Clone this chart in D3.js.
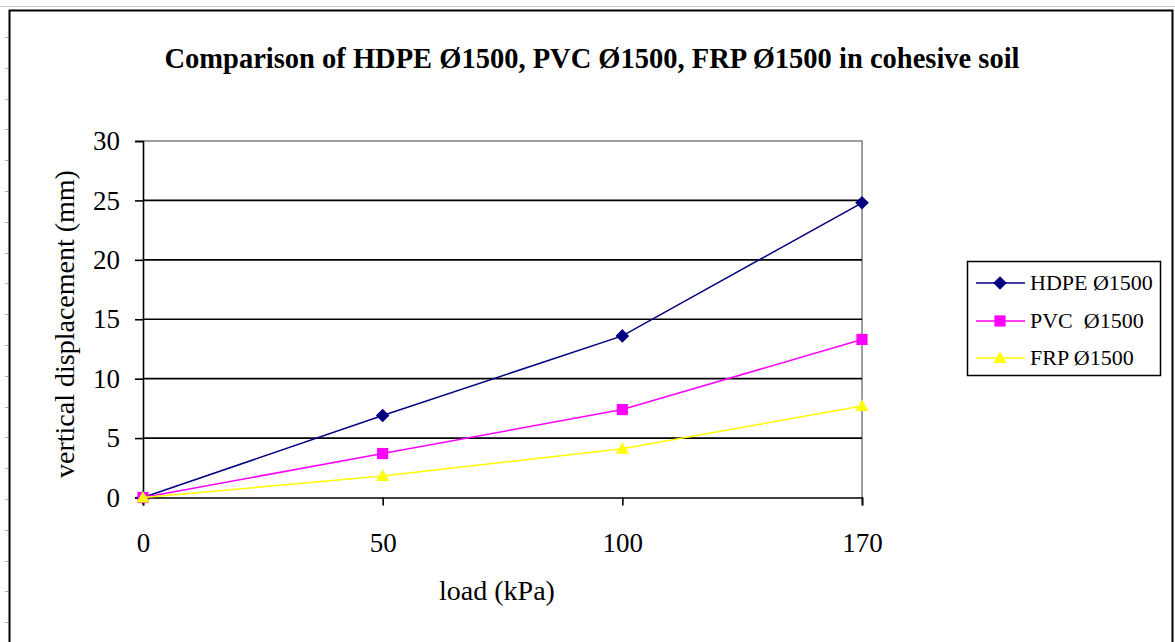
<!DOCTYPE html>
<html>
<head>
<meta charset="utf-8">
<script src="https://cdn.jsdelivr.net/npm/d3@7/dist/d3.min.js"></script>
<style>
  html, body { margin: 0; padding: 0; background: #fff; }
  svg { display: block; }
  text { font-family: "Liberation Serif", "Times New Roman", serif; fill: #000; }
</style>
</head>
<body>
<svg id="chart" width="1175" height="642"></svg>
<script>
// Load steps (category axis) and measured vertical displacement per pipe
const loads = ["0", "50", "100", "170"];
const hdpe = [0, 6.9, 13.6, 24.8];
const pvc = [0, 3.7, 7.4, 13.3];
const frp = [0, 1.8, 4.1, 7.7];
const seriesNames = ["HDPE Ø1500", "PVC  Ø1500", "FRP Ø1500"];
const yTicks = [0, 5, 10, 15, 20, 25, 30];

const title = "Comparison of HDPE Ø1500, PVC Ø1500, FRP Ø1500 in cohesive soil";
const xTitle = "load (kPa)";
const yTitle = "vertical displacement (mm)";

const series = [
  { name: seriesNames[0], values: hdpe, color: "#000080", marker: "diamond" },
  { name: seriesNames[1], values: pvc, color: "#FF00FF", marker: "square" },
  { name: seriesNames[2], values: frp, color: "#FFFF00", marker: "triangle" }
];

const svg = d3.select("#chart");
const W = 1175, H = 642;

// Sheet edge decorations: faint row/column guides around the chart object
svg.append("line").attr("x1", 0).attr("x2", W).attr("y1", 6.5).attr("y2", 6.5)
  .attr("stroke", "#c8c8c8").attr("stroke-width", 1);
const rowTicks = d3.range(37, H, 30.8);
svg.selectAll("line.row").data(rowTicks).join("line").attr("class", "row")
  .attr("x1", 5).attr("x2", 8).attr("y1", d => Math.round(d) + 0.5).attr("y2", d => Math.round(d) + 0.5)
  .attr("stroke", "#b0b0b0");

// Chart object frame
svg.append("path")
  .attr("d", `M9.5,${H} V10.5 H1172.5 V${H}`)
  .attr("fill", "none").attr("stroke", "#000").attr("stroke-width", 2);

// Plot area
const plot = { left: 143, right: 862, top: 141, bottom: 497.5 };

const x = d3.scalePoint().domain(loads).range([plot.left, plot.right]);
const y = d3.scaleLinear().domain([0, 30]).range([plot.bottom, plot.top]);

// Plot area border (gray top/right)
svg.append("path")
  .attr("d", `M${plot.left},${y(30)} H${plot.right} V${plot.bottom}`)
  .attr("fill", "none").attr("stroke", "#808080").attr("stroke-width", 1.5);

// Horizontal gridlines
svg.append("g")
  .selectAll("line").data(yTicks.filter(t => t > 0 && t < 30)).join("line")
  .attr("x1", plot.left).attr("x2", plot.right)
  .attr("y1", d => y(d)).attr("y2", d => y(d))
  .attr("stroke", "#000").attr("stroke-width", 1.6);

// Y axis
const yAxis = d3.axisLeft(y).tickValues(yTicks).tickSize(8).tickPadding(15);
const gy = svg.append("g").attr("transform", `translate(${plot.left},0)`).call(yAxis);
gy.select(".domain").attr("stroke", "#000").attr("stroke-width", 1.6);
gy.selectAll(".tick line").attr("stroke", "#000").attr("stroke-width", 1.6);
gy.selectAll(".tick text").attr("font-size", 27).attr("font-family", "Liberation Serif, serif");

// X axis
const xAxis = d3.axisBottom(x).tickSize(8).tickPadding(27);
const gx = svg.append("g").attr("transform", `translate(0,${plot.bottom})`).call(xAxis);
gx.select(".domain").attr("stroke", "#000").attr("stroke-width", 1.6);
gx.selectAll(".tick line").attr("stroke", "#000").attr("stroke-width", 1.6);
gx.selectAll(".tick text").attr("font-size", 27).attr("font-family", "Liberation Serif, serif");

// Titles
svg.append("text").attr("x", 592).attr("y", 68).attr("text-anchor", "middle")
  .attr("font-size", 28.5).attr("font-weight", "bold").text(title);
svg.append("text").attr("x", 497).attr("y", 600).attr("text-anchor", "middle")
  .attr("font-size", 28).text(xTitle);
svg.append("text")
  .attr("transform", `translate(74,324) rotate(-90)`)
  .attr("text-anchor", "middle").attr("font-size", 28).text(yTitle);

// Marker shapes
const markerPath = {
  diamond: "M0,-6.8L6.8,0L0,6.8L-6.8,0Z",
  square: "M-5.6,-5.6H5.6V5.6H-5.6Z",
  triangle: "M0,-6.5L6.5,5L-6.5,5Z"
};

const line = d3.line().x((d, i) => x(loads[i])).y(d => y(d));

const gs = svg.append("g").selectAll("g").data(series).join("g");
gs.append("path")
  .attr("d", d => line(d.values))
  .attr("fill", "none").attr("stroke", d => d.color).attr("stroke-width", 1.5);
gs.each(function (s) {
  d3.select(this).selectAll("path.m").data(s.values).join("path").attr("class", "m")
    .attr("d", markerPath[s.marker])
    .attr("transform", (d, i) => `translate(${x(loads[i])},${y(d)})`)
    .attr("fill", s.color);
});

// Legend
const lg = svg.append("g");
lg.append("rect").attr("x", 967.5).attr("y", 261.5).attr("width", 193).attr("height", 114)
  .attr("fill", "#fff").attr("stroke", "#000").attr("stroke-width", 1.5);
const rowY = [283, 321, 358];
const items = lg.selectAll("g.item").data(series).join("g").attr("class", "item")
  .attr("transform", (d, i) => `translate(0,${rowY[i]})`);
items.append("line").attr("x1", 976).attr("x2", 1025).attr("y1", 0).attr("y2", 0)
  .attr("stroke", d => d.color).attr("stroke-width", 1.5);
items.append("path").attr("d", d => markerPath[d.marker])
  .attr("transform", "translate(1000,0)").attr("fill", d => d.color);
items.append("text").attr("x", 1030).attr("y", 7).attr("font-size", 22)
  .attr("xml:space", "preserve").style("white-space", "pre").text(d => d.name);
</script>
</body>
</html>
